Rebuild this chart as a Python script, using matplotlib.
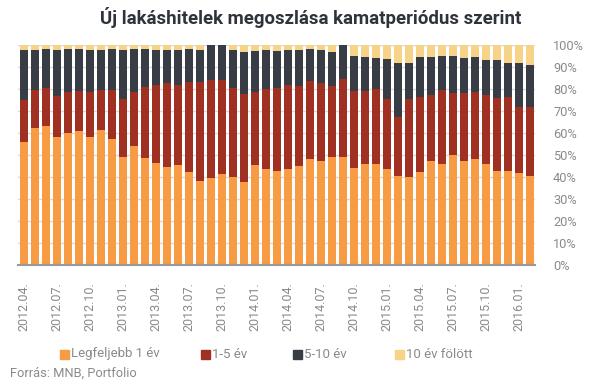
import matplotlib.pyplot as plt
import numpy as np
from matplotlib.patches import Rectangle

plt.rcParams["font.family"] = ["Roboto", "DejaVu Sans"]

ORANGE = "#f79b45"
RED = "#a03022"
DARK = "#383d45"
YELLOW = "#f6d386"
GREY = "#8a8a8a"

# cumulative tops (%), one per month 2012.04 .. 2016.02
top_1y = [56.1, 62.4, 63.3, 58.3, 60.2, 61.1, 58.3, 61.5, 57.4, 49.2,
          54.2, 48.8, 46.5, 44.7, 45.6, 42.4, 38.3, 39.7, 41.5, 40.2,
          37.9, 45.6, 43.8, 42.9, 43.8, 45.2, 48.3, 47.4, 49.2, 49.2,
          44.2, 46.1, 46.1, 43.8, 40.6, 40.2, 42.4, 47.4, 46.1, 50.2,
          47.4, 48.3, 46.1, 42.9, 42.9, 42.0, 40.6]
top_5y = [75.2, 79.7, 80.6, 77.0, 78.8, 79.2, 78.8, 79.7, 79.7, 75.6,
          78.8, 81.1, 82.0, 82.9, 82.0, 83.3, 83.3, 84.2, 84.2, 80.6,
          77.9, 78.8, 80.2, 80.6, 82.0, 81.5, 83.8, 82.9, 81.5, 84.7,
          79.2, 79.2, 80.2, 75.6, 67.4, 75.6, 76.5, 77.4, 79.7, 78.3,
          78.3, 78.8, 77.4, 76.1, 76.5, 72.0, 72.0]
top_10y = [97.9, 97.9, 98.3, 97.9, 98.3, 98.3, 97.9, 97.9, 98.3, 97.9,
           98.3, 98.3, 97.9, 97.9, 97.9, 98.3, 97.9, 100.0, 100.0, 97.9,
           97.0, 97.4, 97.9, 97.4, 97.9, 97.9, 98.3, 97.9, 97.0, 100.0,
           95.2, 94.7, 94.2, 93.8, 92.0, 92.0, 94.7, 94.7, 95.2, 95.2,
           94.2, 94.7, 93.3, 93.3, 92.0, 92.0, 91.1]

months = []
for y in range(2012, 2017):
    for m in range(1, 13):
        months.append(f"{y}.{m:02d}.")
months = months[3:3 + len(top_1y)]

series_names = ["Legfeljebb 1 év", "1-5 év", "5-10 év", "10 év fölött"]

s1 = np.array(top_1y)
s2 = np.array(top_5y) - s1
s3 = np.array(top_10y) - np.array(top_5y)
s4 = 100 - np.array(top_10y)

fig = plt.figure(figsize=(6.07, 3.82), dpi=100)
ax = fig.add_axes([18 / 607, 1 - 265.3 / 382, 517 / 607, 220 / 382])

x = np.arange(len(months))
bottom = np.zeros(len(months))
for vals, col in zip([s1, s2, s3, s4], [ORANGE, RED, DARK, YELLOW]):
    ax.bar(x, vals, bottom=bottom, width=0.73, color=col, zorder=2)
    bottom += vals

ax.set_xlim(-0.55, len(months) - 0.55)
ax.set_ylim(0, 100)
ax.set_yticks(range(0, 101, 10))
ax.set_yticklabels([f"{v}%" for v in range(0, 101, 10)])
ax.yaxis.tick_right()
ax.grid(axis="y", color="#d9d9d9", lw=1, zorder=0)
ax.set_xticks(x[::3])
ax.set_xticklabels(months[::3], rotation=90)
ax.tick_params(axis="x", length=0, pad=12, colors=GREY, labelsize=9)
ax.tick_params(axis="y", length=0, pad=13, colors=GREY, labelsize=9.2)
for t in ax.get_yticklabels():
    t.set_ha("left")
for s in ["top", "left", "right"]:
    ax.spines[s].set_visible(False)
ax.spines["bottom"].set_color("#999999")
ax.spines["bottom"].set_linewidth(1.5)
ax.spines["bottom"].set_zorder(3)

fig.text(311 / 607, 1 - 18 / 382, "Új lakáshitelek megoszlása kamatperiódus szerint",
         ha="center", va="center", fontsize=13.4, fontweight="bold", color="#2f343c")

# legend row
leg_x = [60, 201, 293, 395]
for lx, name, col in zip(leg_x, series_names, [ORANGE, RED, DARK, YELLOW]):
    fig.patches.append(Rectangle((lx / 607, 1 - 359 / 382), 9 / 607, 9 / 382,
                                 transform=fig.transFigure, color=col))
    fig.text((lx + 11) / 607, 1 - 354 / 382, name, ha="left", va="center",
             fontsize=9.5, color=GREY)

fig.text(10 / 607, 1 - 373 / 382, "Forrás: MNB, Portfolio", ha="left", va="center",
         fontsize=9.3, color=GREY)

fig.savefig("out.png", dpi=100)
